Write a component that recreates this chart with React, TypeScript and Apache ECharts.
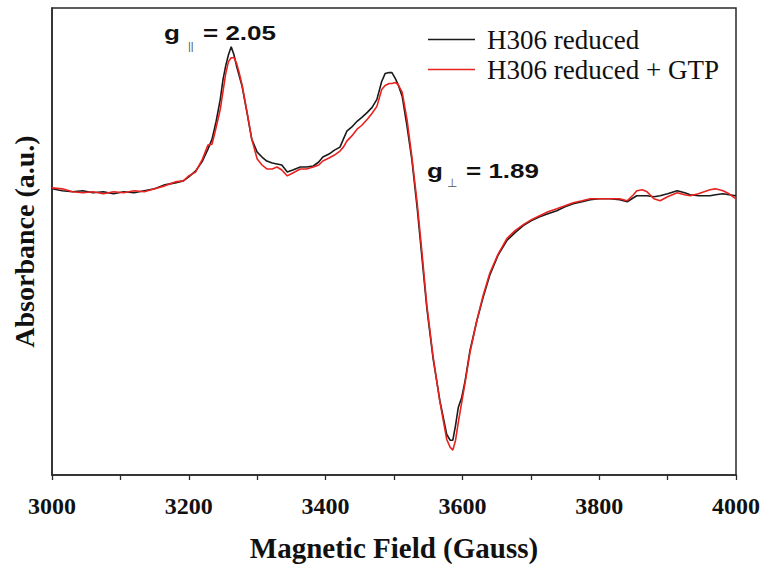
import React, { useEffect, useRef } from "react";
import * as echarts from "echarts";

// Magnetic field (Gauss)
const fieldGauss = [
  3000, 3015, 3030, 3045, 3060, 3075, 3090, 3105, 3120, 3135,
  3150, 3165, 3180, 3192, 3200, 3210, 3220, 3228, 3234, 3240,
  3246, 3250, 3254, 3258, 3262, 3266, 3270, 3274, 3278, 3285,
  3292, 3300, 3307, 3314, 3322, 3329, 3336, 3344, 3352, 3363,
  3372, 3382, 3390, 3396, 3405, 3413, 3421, 3426, 3431, 3438,
  3446, 3453, 3461, 3468, 3475, 3482, 3487, 3493, 3497, 3502,
  3506, 3512, 3519, 3526, 3534, 3541, 3548, 3557, 3567, 3577,
  3582, 3586, 3590, 3594, 3599, 3604, 3611, 3621, 3630, 3640,
  3652, 3665, 3677, 3689, 3701, 3713, 3725, 3738, 3750, 3762,
  3775, 3787, 3800, 3816, 3830, 3841, 3850, 3855, 3863, 3870,
  3880, 3889, 3900, 3914, 3925, 3933, 3945, 3962, 3970, 3981,
  3990, 4000,
];

// H306 reduced (black)
const h306Reduced = [
  0.0, -0.02, -0.03, -0.02, -0.04, -0.03, -0.05, -0.03, -0.04, -0.02,
  0.0, 0.04, 0.06, 0.08, 0.12, 0.18, 0.28, 0.4, 0.5, 0.68,
  0.9, 1.1, 1.24, 1.35, 1.43, 1.35, 1.23, 1.13, 1.03, 0.77,
  0.5, 0.37, 0.32, 0.28, 0.26, 0.25, 0.24, 0.17, 0.19, 0.22,
  0.22, 0.23, 0.27, 0.32, 0.35, 0.39, 0.42, 0.5, 0.58, 0.62,
  0.68, 0.72, 0.77, 0.82, 0.9, 1.08, 1.16, 1.17, 1.17, 1.11,
  1.05, 0.93, 0.63, 0.3, -0.2, -0.7, -1.2, -1.7, -2.13, -2.47,
  -2.53, -2.53, -2.38, -2.2, -2.1, -1.93, -1.63, -1.33, -1.1, -0.87,
  -0.67, -0.52, -0.44, -0.37, -0.32, -0.28, -0.25, -0.22, -0.18, -0.15,
  -0.13, -0.11, -0.1, -0.1, -0.11, -0.13, -0.09, -0.07, -0.07, -0.07,
  -0.08, -0.07, -0.05, -0.02, -0.04, -0.06, -0.07, -0.07, -0.06, -0.05,
  -0.06, -0.07,
];

// H306 reduced + GTP (red)
const h306ReducedGTP = [
  0.01, 0.0, -0.03, -0.04, -0.03, -0.05, -0.03, -0.04, -0.02, -0.03,
  0.0, 0.03, 0.07, 0.08, 0.13, 0.17, 0.3, 0.44, 0.45, 0.62,
  0.8, 0.98, 1.16, 1.28, 1.32, 1.32, 1.26, 1.16, 1.04, 0.78,
  0.5, 0.3, 0.24, 0.2, 0.2, 0.22, 0.19, 0.13, 0.16, 0.2,
  0.2, 0.22, 0.24, 0.28, 0.31, 0.34, 0.38, 0.42, 0.48, 0.53,
  0.6, 0.64, 0.7, 0.76, 0.83, 1.0, 1.04, 1.06, 1.06, 1.07,
  1.05, 0.97, 0.7, 0.33, -0.15, -0.65, -1.17, -1.68, -2.14, -2.52,
  -2.6, -2.63, -2.53, -2.35, -2.15, -1.95, -1.65, -1.33, -1.08, -0.85,
  -0.66, -0.5, -0.42, -0.36, -0.31, -0.27, -0.23, -0.2, -0.17, -0.14,
  -0.12, -0.1, -0.1, -0.1, -0.1, -0.12, -0.06, -0.02, -0.01, -0.03,
  -0.1, -0.12, -0.08, -0.04, -0.06, -0.07, -0.05, -0.01, 0.0, -0.02,
  -0.05, -0.1,
];

const seriesNames = ["H306 reduced", "H306 reduced + GTP"];
const seriesColors = ["#1a1a1a", "#e8231f"];

const xMin = 3000;
const xMax = 4000;
const xInterval = 200;
const yMin = -2.88;
const yMax = 1.82;

const serif = '"Liberation Serif", "Times New Roman", serif';
const sans = '"Liberation Sans", Arial, sans-serif';

export default function App() {
  const ref = useRef<HTMLDivElement>(null);

  useEffect(() => {
    if (!ref.current) return;
    const chart = echarts.init(ref.current, null, { renderer: "svg" });
    const toPairs = (vals: number[]) => fieldGauss.map((x, i) => [x, vals[i]]);
    const axisColor = "#2a2a2a";
    const annFont = `bold 20px ${sans}`;
    chart.setOption({
      animation: false,
      backgroundColor: "#ffffff",
      grid: {
        left: 52,
        right: 31,
        top: 8,
        bottom: 89,
        show: true,
        borderColor: axisColor,
        borderWidth: 1.5,
        backgroundColor: "transparent",
      },
      legend: {
        orient: "vertical",
        left: 423,
        top: 21,
        padding: 5,
        icon: "rect",
        itemWidth: 47,
        itemHeight: 1.5,
        itemGap: 3,
        data: seriesNames,
        textStyle: {
          fontFamily: serif,
          fontSize: 27,
          lineHeight: 27,
          color: "#111",
          padding: [0, 0, 0, 7],
        },
      },
      xAxis: {
        type: "value",
        min: xMin,
        max: xMax,
        interval: xInterval,
        axisLine: { show: true, onZero: false, lineStyle: { color: axisColor, width: 1.5 } },
        axisTick: { show: true, inside: false, length: 5, lineStyle: { color: axisColor, width: 1.3 } },
        minorTick: { show: true, splitNumber: 2, length: 5, lineStyle: { color: axisColor, width: 1.3 } },
        splitLine: { show: false },
        minorSplitLine: { show: false },
        axisLabel: {
          fontFamily: serif,
          fontWeight: "bold",
          fontSize: 24,
          color: "#111",
          margin: 19,
          formatter: (v: number) => String(v),
        },
        name: "Magnetic Field (Gauss)",
        nameLocation: "middle",
        nameGap: 58,
        nameTextStyle: { fontFamily: serif, fontWeight: "bold", fontSize: 29, color: "#111" },
      },
      yAxis: {
        type: "value",
        min: yMin,
        max: yMax,
        axisLine: { show: true, onZero: false, lineStyle: { color: axisColor, width: 1.5 } },
        axisTick: { show: false },
        axisLabel: { show: false },
        splitLine: { show: false },
        name: "Absorbance (a.u.)",
        nameLocation: "middle",
        nameGap: 14,
        nameTextStyle: { fontFamily: serif, fontWeight: "bold", fontSize: 28, color: "#111" },
      },
      series: [
        {
          name: seriesNames[0],
          type: "line",
          data: toPairs(h306Reduced),
          showSymbol: false,
          symbol: "none",
          lineStyle: { color: seriesColors[0], width: 1.6 },
          itemStyle: { color: seriesColors[0] },
        },
        {
          name: seriesNames[1],
          type: "line",
          data: toPairs(h306ReducedGTP),
          showSymbol: false,
          symbol: "none",
          lineStyle: { color: seriesColors[1], width: 1.6 },
          itemStyle: { color: seriesColors[1] },
        },
      ],
      graphic: [
        { type: "text", x: 164, y: 33, scaleX: 1.3, style: { text: "g", font: annFont, fill: "#111", verticalAlign: "middle" } },
        { type: "text", x: 188, y: 46, style: { text: "||", font: `11px ${sans}`, fill: "#555", verticalAlign: "middle" } },
        { type: "text", x: 203, y: 33, scaleX: 1.3, style: { text: "= 2.05", font: annFont, fill: "#111", verticalAlign: "middle" } },
        { type: "text", x: 427, y: 171, scaleX: 1.3, style: { text: "g", font: annFont, fill: "#111", verticalAlign: "middle" } },
        { type: "text", x: 447, y: 183, style: { text: "⊥", font: `12px "DejaVu Sans", sans-serif`, fill: "#555", verticalAlign: "middle" } },
        { type: "text", x: 466, y: 171, scaleX: 1.3, style: { text: "= 1.89", font: annFont, fill: "#111", verticalAlign: "middle" } },
      ],
    });
    return () => chart.dispose();
  }, []);

  return (
    <div
      ref={ref}
      style={{ position: "fixed", left: 0, top: 0, width: 767, height: 567 }}
    />
  );
}
